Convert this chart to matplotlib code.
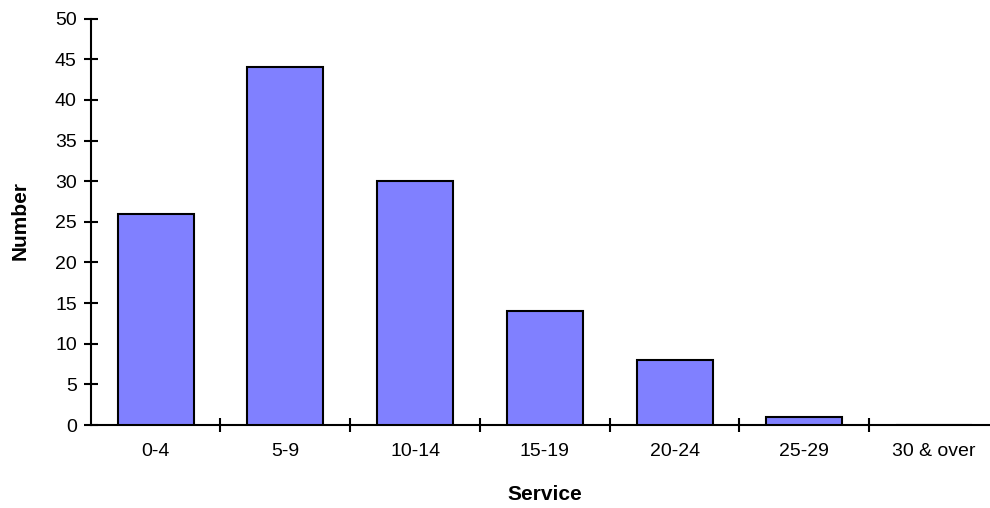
import matplotlib
matplotlib.use("Agg")
import matplotlib.pyplot as plt

categories = ["0-4", "5-9", "10-14", "15-19", "20-24", "25-29", "30 & over"]
counts = [26, 44, 30, 14, 8, 1, 0]
y_ticks = [0, 5, 10, 15, 20, 25, 30, 35, 40, 45, 50]

plt.rcParams["font.family"] = ["Liberation Sans", "DejaVu Sans"]

W, H = 990, 508
fig = plt.figure(figsize=(W / 100, H / 100), dpi=100)
x0, x1 = 90.7, 999.0
y_bot, y_top = 425.0, 18.7
ax = fig.add_axes([x0 / W, (H - y_bot) / H, (x1 - x0) / W, (y_bot - y_top) / H])

xs = list(range(len(categories)))
ax.bar(xs, counts, width=0.585, color="#8080FF", edgecolor="black", linewidth=1.5, zorder=3)

ax.set_xlim(-0.5, len(categories) - 0.5)
ax.set_ylim(0, 50)
ax.set_yticks(y_ticks)
ax.set_yticklabels([str(v) for v in y_ticks], fontsize=14)

ax.set_xticks(xs)
ax.set_xticklabels(categories, fontsize=14)
ax.set_xticks([i + 0.5 for i in range(len(categories) - 1)], minor=True)
ax.tick_params(axis="x", which="major", length=0, pad=13)
ax.tick_params(axis="x", which="minor", direction="inout", length=10, width=1.5)
ax.tick_params(axis="y", direction="inout", length=10, width=1.5, pad=5)

for side in ("top", "right"):
    ax.spines[side].set_visible(False)
for side in ("left", "bottom"):
    ax.spines[side].set_linewidth(1.5)

fig.text(545 / W, 1 - 495 / H, "Service", fontsize=15, fontweight="bold",
         ha="center", va="center")
fig.text(20 / W, 1 - 220 / H, "Number", fontsize=15, fontweight="bold",
         ha="center", va="center", rotation=90)

fig.savefig("out.png", dpi=100)
